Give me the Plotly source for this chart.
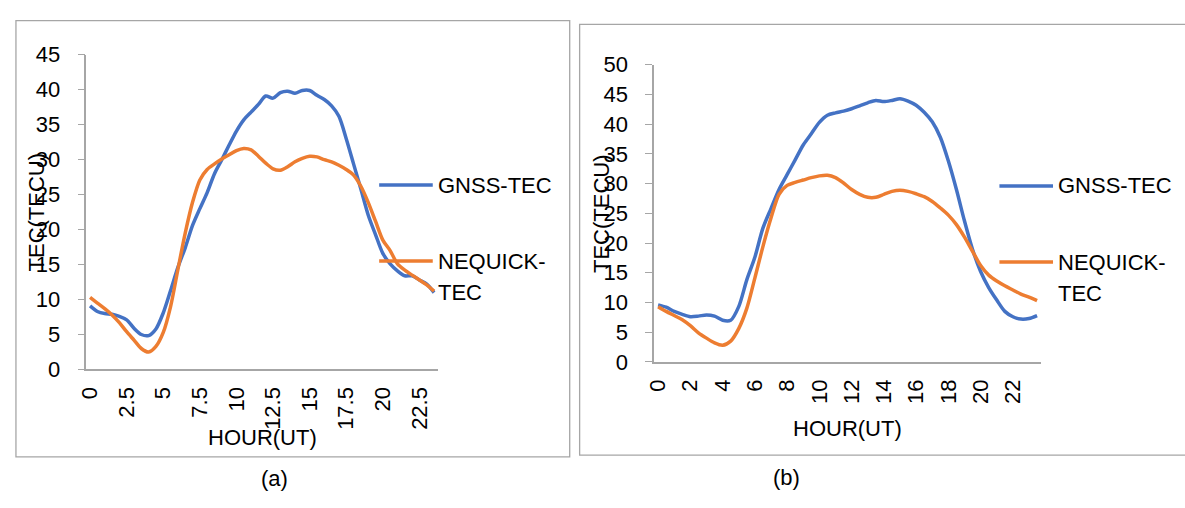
import plotly.graph_objects as go

# ---------------- data ----------------
hours = [0, 0.5, 1, 1.5, 2, 2.5, 3, 3.5, 4, 4.5, 5, 5.5, 6, 6.5, 7, 7.5, 8, 8.5, 9, 9.5,
         10, 10.5, 11, 11.5, 12, 12.5, 13, 13.5, 14, 14.5, 15, 15.5, 16, 16.5, 17, 17.5,
         18, 18.5, 19, 19.5, 20, 20.5, 21, 21.5, 22, 22.5, 23, 23.5]

gnss_a = [9.1, 8.3, 8.0, 7.9, 7.6, 7.1, 5.9, 5.0, 4.85, 5.8,
          8.1, 11.3, 14.6, 17.4, 20.6, 23.0, 25.3, 28.0, 30.0, 32.1,
          34.1, 35.7, 36.8, 37.9, 39.1, 38.8, 39.6, 39.8, 39.5, 39.9,
          39.9, 39.2, 38.6, 37.7, 36.2, 33.0, 29.4, 25.8, 22.1, 19.3,
          16.6, 15.1, 14.1, 13.4, 13.4, 12.8, 12.2, 11.0]
nequick_a = [10.3, 9.5, 8.7, 7.8, 6.7, 5.4, 4.2, 3.0, 2.5, 3.3,
             5.3, 9.0, 14.3, 19.5, 23.9, 27.1, 28.6, 29.4, 30.1, 30.7,
             31.3, 31.6, 31.4, 30.5, 29.5, 28.7, 28.5, 29.0, 29.7, 30.2,
             30.5, 30.4, 30.0, 29.7, 29.2, 28.6, 27.8, 26.2, 23.9, 21.2,
             18.5, 17.0, 15.1, 14.2, 13.5, 12.8, 12.1, 11.2]

gnss_b = [9.6, 9.2, 8.5, 8.0, 7.6, 7.7, 7.9, 7.7, 7.0, 7.0,
          9.3, 13.8, 17.6, 22.5, 25.8, 29.0, 31.5, 34.0, 36.5, 38.4,
          40.3, 41.5, 41.9, 42.2, 42.6, 43.1, 43.6, 44.0, 43.8, 44.0,
          44.3, 43.9, 43.2, 42.0, 40.4, 37.8, 33.8, 29.0, 23.7, 18.9,
          15.2, 12.5, 10.4, 8.5, 7.6, 7.2, 7.3, 7.8]
nequick_b = [9.3, 8.5, 7.8, 7.1, 6.1, 4.9, 4.0, 3.2, 2.8, 3.5,
             5.6, 9.0, 14.1, 19.4, 24.2, 28.2, 29.7, 30.2, 30.6, 31.0,
             31.3, 31.4, 31.0, 30.1, 29.0, 28.2, 27.7, 27.7, 28.2, 28.7,
             28.9, 28.7, 28.3, 27.8, 27.0, 25.9, 24.7, 23.1, 21.0, 18.6,
             16.2, 14.6, 13.6, 12.8, 12.1, 11.4, 10.9, 10.3]

ticks_a = [0, 2.5, 5, 7.5, 10, 12.5, 15, 17.5, 20, 22.5]
ticklabels_a = ["0", "2.5", "5", "7.5", "10", "12.5", "15", "17.5", "20", "22.5"]
ticks_b = [0, 2, 4, 6, 8, 10, 12, 14, 16, 18, 20, 22]
ticklabels_b = ["0", "2", "4", "6", "8", "10", "12", "14", "16", "18", "20", "22"]

series_names = ["GNSS-TEC", "NEQUICK-TEC"]

# ---------------- style ----------------
W, H = 1185, 508
BLUE = "#4472C4"
ORANGE = "#ED7D31"
AXC = "#A6A6A6"
FONT = "Liberation Sans, Arial, sans-serif"
FS = 22


def px(x):
    return x / W


def py(y):
    return 1 - y / H


fig = go.Figure()
for xa, ya, g, n in [("x", "y", gnss_a, nequick_a), ("x2", "y2", gnss_b, nequick_b)]:
    fig.add_trace(go.Scatter(x=hours, y=g, mode="lines", name=series_names[0],
                             line=dict(color=BLUE, width=3.5, shape="spline", smoothing=0.8),
                             xaxis=xa, yaxis=ya, showlegend=False))
    fig.add_trace(go.Scatter(x=hours, y=n, mode="lines", name=series_names[1],
                             line=dict(color=ORANGE, width=3.5, shape="spline", smoothing=0.8),
                             xaxis=xa, yaxis=ya, showlegend=False))


def xaxis_cfg(dom, tv, tt, anchor):
    return dict(domain=dom, range=[-0.25, 23.75], anchor=anchor,
                showline=True, linecolor=AXC, linewidth=1.5,
                ticks="", tickmode="array", tickvals=tv, ticktext=tt, tickangle=-90,
                tickfont=dict(family=FONT, size=FS, color="black"),
                ticklabelstandoff=7,
                showgrid=False, zeroline=False, fixedrange=True)


def xtick_overlay(dom, over, anchor):
    # category boundary tick marks (Excel-style, between the half-hourly points)
    return dict(domain=dom, range=[-0.25, 23.75], anchor=anchor, overlaying=over,
                showline=False, ticks="outside", ticklen=7, tickcolor=AXC, tickwidth=1.3,
                tickmode="linear", tick0=-0.25, dtick=0.5, showticklabels=False,
                showgrid=False, zeroline=False, fixedrange=True)


def yaxis_cfg(dom, top, anchor):
    return dict(domain=dom, range=[0, top], anchor=anchor,
                showline=True, linecolor=AXC, linewidth=1.5,
                ticks="outside", ticklen=7, tickcolor=AXC, tickwidth=1.3,
                tickmode="linear", tick0=0, dtick=5,
                tickfont=dict(family=FONT, size=FS, color="black"),
                ticklabelstandoff=13,
                showgrid=False, zeroline=False, fixedrange=True)


shapes = [
    dict(type="rect", xref="paper", yref="paper", x0=px(7), x1=px(565), y0=py(468), y1=py(9),
         line=dict(color=AXC, width=1.3), fillcolor="rgba(0,0,0,0)", layer="below"),
    dict(type="rect", xref="paper", yref="paper", x0=px(575), x1=1.02, y0=py(466), y1=py(13),
         line=dict(color=AXC, width=1.3), fillcolor="rgba(0,0,0,0)", layer="below"),
]

annotations = []


def text(t, x, y, angle=0, xanchor="center"):
    annotations.append(dict(text=t, x=px(x), y=py(y), xref="paper", yref="paper",
                            showarrow=False, textangle=angle, xanchor=xanchor, yanchor="middle",
                            font=dict(family=FONT, size=FS, color="black")))


# legend keys (a) and (b)
for x0, yg, yn in [(373, 182, 262), (998, 183, 263)]:
    shapes.append(dict(type="line", xref="paper", yref="paper", x0=px(x0), x1=px(x0 + 54),
                       y0=py(yg), y1=py(yg), line=dict(color=BLUE, width=3.5), layer="above"))
    shapes.append(dict(type="line", xref="paper", yref="paper", x0=px(x0), x1=px(x0 + 54),
                       y0=py(yn), y1=py(yn), line=dict(color=ORANGE, width=3.5), layer="above"))
    text("GNSS-TEC", x0 + 57, yg, xanchor="left")
    text("NEQUICK-", x0 + 57, yn, xanchor="left")
    text("TEC", x0 + 57, yn + 33, xanchor="left")

# axis titles
text("TEC(TECU)", 28, 210, angle=-90)
text("HOUR(UT)", 255, 448)
text("TEC(TECU)", 597, 212, angle=-90)
text("HOUR(UT)", 845, 438)
# captions
text("(a)", 268, 491)
text("(b)", 783, 490)

fig.update_layout(
    width=W, height=H,
    margin=dict(l=0, r=0, t=0, b=0),
    paper_bgcolor="white", plot_bgcolor="white",
    showlegend=False,
    xaxis=xaxis_cfg([px(78), px(432)], ticks_a, ticklabels_a, "y"),
    yaxis=yaxis_cfg([py(376), py(45)], 45, "x"),
    xaxis2=xaxis_cfg([px(650), px(1040)], ticks_b, ticklabels_b, "y2"),
    yaxis2=yaxis_cfg([py(368), py(55.5)], 50, "x2"),
    xaxis3=xtick_overlay([px(78), px(432)], "x", "y"),
    xaxis4=xtick_overlay([px(650), px(1040)], "x2", "y2"),
    shapes=shapes,
    annotations=annotations,
)

fig.write_html("out.html")
